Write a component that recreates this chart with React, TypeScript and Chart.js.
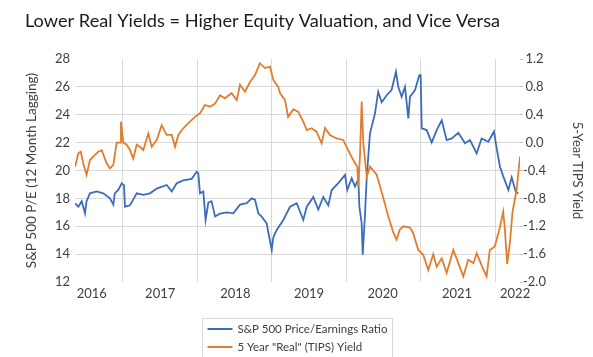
import React, { useEffect, useRef } from "react";
import { Chart, registerables } from "chart.js";

Chart.register(...registerables);

// ---------- DATA ----------
const TITLE = "Lower Real Yields = Higher Equity Valuation, and Vice Versa";
const seriesNames = ["S&P 500 Price/Earnings Ratio", '5 Year "Real" (TIPS) Yield'];
const leftAxisTitle = "S&P 500 P/E (12 Month Lagging)";
const rightAxisTitle = "5-Year TIPS Yield";

// S&P 500 P/E (decimal year, value)
const peYears = [
  2016.355, 2016.4, 2016.445, 2016.49, 2016.51, 2016.556, 2016.646, 2016.735, 2016.825, 2016.87,
  2016.89, 2016.937, 2016.983, 2017.013, 2017.027, 2017.094, 2017.184, 2017.273, 2017.363, 2017.453,
  2017.587, 2017.655, 2017.722, 2017.81, 2017.923, 2017.99, 2018.012, 2018.035, 2018.08, 2018.11,
  2018.147, 2018.19, 2018.237, 2018.304, 2018.394, 2018.483, 2018.573, 2018.663, 2018.73, 2018.774,
  2018.819, 2018.864, 2018.931, 2018.999, 2019.02, 2019.066, 2019.155, 2019.245, 2019.335, 2019.423,
  2019.47, 2019.558, 2019.625, 2019.692, 2019.76, 2019.805, 2019.894, 2019.984, 2020.015, 2020.074,
  2020.118, 2020.163, 2020.177, 2020.208, 2020.222, 2020.253, 2020.276, 2020.32, 2020.387, 2020.43,
  2020.477, 2020.544, 2020.61, 2020.669, 2020.7, 2020.745, 2020.79, 2020.835, 2020.858, 2020.925,
  2020.983, 2021.001, 2021.015, 2021.082, 2021.149, 2021.216, 2021.284, 2021.35, 2021.418, 2021.507,
  2021.597, 2021.664, 2021.754, 2021.82, 2021.91, 2021.986, 2022.022, 2022.067, 2022.11, 2022.18,
  2022.224, 2022.278, 2022.313,
];
const peValues = [
  17.65, 17.4, 17.8, 16.93, 17.8, 18.36, 18.5, 18.36, 18.0, 17.55,
  18.36, 18.6, 19.08, 18.95, 17.4, 17.5, 18.36, 18.25, 18.36, 18.7,
  18.96, 18.5, 19.08, 19.3, 19.4, 19.91, 19.8, 18.36, 18.5, 16.45,
  17.7, 17.8, 16.7, 16.9, 17.0, 16.93, 17.55, 17.65, 18.0, 17.9,
  16.93, 16.7, 16.2, 14.3, 15.2, 15.73, 16.45, 17.4, 17.65, 16.45,
  17.4, 18.1, 17.2, 18.1, 17.5, 18.6, 19.1, 19.68, 18.6, 19.44,
  18.84, 19.4, 17.4, 16.2, 13.95, 16.9, 19.5, 22.67, 24.1, 25.65,
  24.9, 25.4, 25.77, 27.09, 26.0, 25.29, 26.0, 23.74, 25.3, 25.77,
  26.85, 26.85, 23.02, 22.9, 22.0, 22.9, 23.6, 22.18, 22.3, 22.7,
  21.95, 22.18, 21.23, 22.3, 22.06, 22.8, 21.6, 20.27, 19.6, 18.6,
  19.5, 18.5, 18.36,
];

// 5-Year TIPS yield (decimal year, value)
const tipsYears = [
  2016.355, 2016.4, 2016.432, 2016.466, 2016.51, 2016.556, 2016.6, 2016.668, 2016.714, 2016.78,
  2016.825, 2016.87, 2016.915, 2016.96, 2016.973, 2017.004, 2017.05, 2017.094, 2017.138, 2017.184,
  2017.228, 2017.273, 2017.34, 2017.386, 2017.453, 2017.52, 2017.587, 2017.655, 2017.7, 2017.743,
  2017.81, 2017.9, 2017.968, 2018.035, 2018.1, 2018.17, 2018.237, 2018.304, 2018.37, 2018.46,
  2018.528, 2018.573, 2018.64, 2018.707, 2018.774, 2018.84, 2018.909, 2018.976, 2019.02, 2019.087,
  2019.11, 2019.177, 2019.22, 2019.29, 2019.356, 2019.423, 2019.47, 2019.536, 2019.6, 2019.67,
  2019.715, 2019.78, 2019.872, 2019.96, 2020.028, 2020.095, 2020.149, 2020.163, 2020.185, 2020.208,
  2020.23, 2020.276, 2020.32, 2020.41, 2020.5, 2020.566, 2020.63, 2020.677, 2020.72, 2020.767,
  2020.857, 2020.9, 2020.969, 2021.035, 2021.103, 2021.17, 2021.216, 2021.284, 2021.35, 2021.44,
  2021.507, 2021.574, 2021.64, 2021.71, 2021.754, 2021.843, 2021.887, 2021.93, 2021.997, 2022.067,
  2022.11, 2022.13, 2022.164, 2022.2, 2022.236, 2022.29, 2022.336,
];
const tipsValues = [
  -0.345, -0.153, -0.13, -0.296, -0.464, -0.25, -0.2, -0.13, -0.11, -0.296,
  -0.37, -0.32, 0.0, 0.0, 0.3, 0.0, -0.03, -0.106, -0.23, -0.03,
  -0.06, -0.106, 0.13, -0.06, 0.038, 0.25, 0.11, 0.11, -0.06, 0.11,
  0.206, 0.3, 0.37, 0.42, 0.54, 0.516, 0.56, 0.68, 0.636, 0.71,
  0.61, 0.83, 0.73, 0.87, 0.97, 1.14, 1.07, 1.09, 0.9, 0.8,
  0.71, 0.61, 0.37, 0.48, 0.44, 0.3, 0.18, 0.206, 0.157, -0.01,
  0.21, 0.11, 0.06, 0.038, -0.11, -0.25, -0.345, -0.63, -0.2, 0.59,
  -0.01, -0.49, -0.345, -0.46, -0.8, -1.06, -1.28, -1.39, -1.25, -1.2,
  -1.22, -1.3, -1.54, -1.61, -1.83, -1.6, -1.78, -1.66, -1.87, -1.54,
  -1.73, -1.92, -1.68, -1.73, -1.59, -1.82, -1.92, -1.54, -1.49, -1.21,
  -0.99, -1.21, -1.74, -1.44, -0.99, -0.68, -0.2,
];

const xMin = 2016.355;
const xMax = 2022.336;
const yearGrid = [2017, 2018, 2019, 2020, 2021, 2022];
const yearLabels = ["2016", "2017", "2018", "2019", "2020", "2021", "2022"];
const yearLabelAt = [2016.58, 2017.5, 2018.51, 2019.5, 2020.49, 2021.49, 2022.27];

const peMin = 12;
const peMax = 28;
const peStep = 2;
const tipsMin = -2.0;
const tipsMax = 1.2;
const tipsStep = 0.4;

// ---------- STYLE ----------
const FONT = "Lato, 'Open Sans', sans-serif";
const BLUE = "#3E6DB8";
const ORANGE = "#E37D2D";
const GRID = "#d9d9d9";
const TEXT = "#404040";

const titlePlugin = {
  id: "customTitle",
  afterDraw(chart: any) {
    const ctx = chart.ctx;
    ctx.save();
    ctx.font = `18.2px ${FONT}`;
    ctx.fillStyle = "#1a1a1a";
    ctx.textAlign = "center";
    ctx.textBaseline = "middle";
    ctx.fillText(TITLE, 262.5, 21);
    ctx.restore();
  },
};

const legendPlugin = {
  id: "boxLegend",
  afterDraw(chart: any) {
    const ctx = chart.ctx;
    const cx = chart.width / 2;
    ctx.save();
    ctx.strokeStyle = GRID;
    ctx.lineWidth = 1;
    ctx.strokeRect(Math.round(cx - 95) + 0.5, 318.5, 190, 50);
    chart.data.datasets.forEach((ds: any, i: number) => {
      const y = 329 + i * 18;
      ctx.strokeStyle = ds.borderColor;
      ctx.lineWidth = 2;
      ctx.beginPath();
      ctx.moveTo(cx - 89, y);
      ctx.lineTo(cx - 64, y);
      ctx.stroke();
      ctx.fillStyle = TEXT;
      ctx.font = `11.5px ${FONT}`;
      ctx.textAlign = "left";
      ctx.textBaseline = "middle";
      ctx.fillText(ds.label, cx - 59, y);
    });
    ctx.restore();
  },
};

export default function App() {
  const canvasRef = useRef<HTMLCanvasElement | null>(null);

  useEffect(() => {
    document.body.style.margin = "0";
    const canvas = canvasRef.current;
    if (!canvas) return;
    const chart = new Chart(canvas, {
      type: "line",
      data: {
        datasets: [
          {
            label: seriesNames[0],
            data: peYears.map((x, i) => ({ x, y: peValues[i] })),
            borderColor: BLUE,
            backgroundColor: BLUE,
            borderWidth: 1.8,
            pointRadius: 0,
            tension: 0,
            xAxisID: "x",
            yAxisID: "y",
            order: 1,
          },
          {
            label: seriesNames[1],
            data: tipsYears.map((x, i) => ({ x, y: tipsValues[i] })),
            borderColor: ORANGE,
            backgroundColor: ORANGE,
            borderWidth: 1.8,
            pointRadius: 0,
            tension: 0,
            xAxisID: "x",
            yAxisID: "y1",
            order: 0,
          },
        ],
      },
      options: {
        responsive: false,
        animation: false,
        layout: { padding: { top: 59, left: 20, right: 0, bottom: 50 } },
        plugins: {
          legend: { display: false },
          title: { display: false },
          tooltip: { enabled: false },
        },
        scales: {
          x: {
            type: "linear",
            position: "bottom",
            min: xMin,
            max: xMax,
            grid: { color: GRID, drawTicks: false },
            border: { display: false },
            ticks: { display: false },
            afterBuildTicks: (a: any) => {
              a.ticks = yearGrid.map((v) => ({ value: v }));
            },
            afterFit: (a: any) => {
              a.height = 0;
            },
          },
          xLabels: {
            type: "linear",
            position: "bottom",
            min: xMin,
            max: xMax,
            grid: { display: false, drawTicks: false },
            border: { display: false },
            ticks: {
              autoSkip: false,
              maxRotation: 0,
              padding: 4,
              color: TEXT,
              font: { family: FONT, size: 13 },
              callback: (_v: any, i: number) => yearLabels[i],
            },
            afterBuildTicks: (a: any) => {
              a.ticks = yearLabelAt.map((v) => ({ value: v }));
            },
            afterFit: (a: any) => {
              a.height = 25;
            },
          },
          y: {
            type: "linear",
            position: "left",
            min: peMin,
            max: peMax,
            ticks: {
              stepSize: peStep,
              padding: 5,
              color: TEXT,
              font: { family: FONT, size: 13 },
            },
            grid: {
              color: (c: any) =>
                c.tick && (c.tick.value === peMin || c.tick.value === peMax) ? "rgba(0,0,0,0)" : GRID,
              drawTicks: false,
            },
            border: { display: false },
            title: {
              display: true,
              text: leftAxisTitle,
              color: TEXT,
              font: { family: FONT, size: 13.5 },
              padding: { top: 4, bottom: 0 },
            },
            afterFit: (a: any) => {
              a.width = 55;
            },
          },
          y1: {
            type: "linear",
            position: "right",
            min: tipsMin,
            max: tipsMax,
            ticks: {
              stepSize: tipsStep,
              padding: 0,
              crossAlign: "center",
              color: TEXT,
              font: { family: FONT, size: 13 },
              callback: (v: any) => (Math.abs(Number(v)) < 1e-9 ? "0.0" : Number(v).toFixed(1)),
            },
            grid: { drawOnChartArea: false, drawTicks: true, tickLength: 3, color: "#bfbfbf" },
            border: { display: false },
            title: {
              display: true,
              text: rightAxisTitle,
              color: TEXT,
              font: { family: FONT, size: 13 },
              padding: { top: 8, bottom: 0 },
            },
            afterFit: (a: any) => {
              a.width = 73;
            },
          },
        },
      },
      plugins: [titlePlugin, legendPlugin],
    } as any);
    return () => chart.destroy();
  }, []);

  return (
    <div style={{ width: 593, height: 357, position: "relative" }}>
      <canvas ref={canvasRef} width={593} height={357} style={{ display: "block" }} />
    </div>
  );
}
